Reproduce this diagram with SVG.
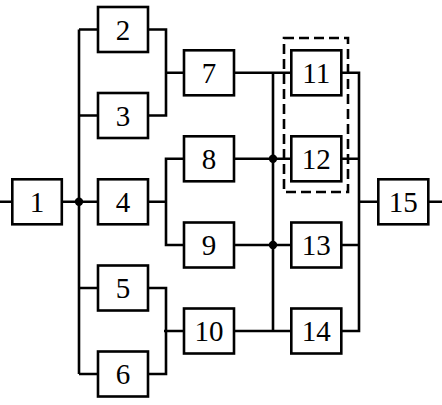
<svg xmlns="http://www.w3.org/2000/svg" width="442" height="405" viewBox="0 0 442 405">
<style>
.b{fill:#fff;stroke:#000;stroke-width:2.6}
.t{font-family:"Liberation Serif","Times New Roman",serif;font-size:29px;text-anchor:middle;fill:#000}
.w{fill:none;stroke:#000;stroke-width:2.6}
.d{fill:none;stroke:#000;stroke-width:2.6;stroke-dasharray:10 5}
</style>
<rect width="442" height="405" fill="#fff"/>
<g id="connectors">
<path class="w" d="M0 201.8H12.3 M61.8 201.8H98 M79 29.5V374 M79 29.5H98 M79 115.5H98 M79 288H98 M79 374H98"/>
<path class="w" d="M148 29.5H166V115.5H148 M166 72.8H184"/>
<path class="w" d="M148 201.8H166 M184 158.8H166V245H184"/>
<path class="w" d="M148 288H166V374H148 M164 331H184"/>
<path class="w" d="M234 72.8H291.3 M234 158.8H291.3 M234 245H291.3 M234 331H291.3 M273 72.8V331"/>
<path class="w" d="M341.3 72.8H359V331H341.3 M341.3 158.8H359 M341.3 245H359 M359 201.8H378.3 M428.3 201.8H442"/>
<circle cx="79" cy="201.8" r="4.2"/>
<circle cx="273" cy="158.8" r="4.2"/>
<circle cx="273" cy="245" r="4.2"/>
</g>
<g id="group-11-12"><rect class="d" x="284" y="38" width="64" height="154"/></g>
<g id="n1"><rect class="b" x="12.3" y="179.3" width="49.5" height="45"/><text class="t" x="37" y="212">1</text></g>
<g id="n2"><rect class="b" x="98" y="7" width="50" height="45"/><text class="t" x="123" y="39.5">2</text></g>
<g id="n3"><rect class="b" x="98" y="93" width="50" height="45"/><text class="t" x="123" y="125.5">3</text></g>
<g id="n4"><rect class="b" x="98" y="179.3" width="50" height="45"/><text class="t" x="123" y="212">4</text></g>
<g id="n5"><rect class="b" x="98" y="265.5" width="50" height="45"/><text class="t" x="123" y="298">5</text></g>
<g id="n6"><rect class="b" x="98" y="351.5" width="50" height="45"/><text class="t" x="123" y="384">6</text></g>
<g id="n7"><rect class="b" x="184" y="50.3" width="50" height="45"/><text class="t" x="209" y="83">7</text></g>
<g id="n8"><rect class="b" x="184" y="136.3" width="50" height="45"/><text class="t" x="209" y="169">8</text></g>
<g id="n9"><rect class="b" x="184" y="222.5" width="50" height="45"/><text class="t" x="209" y="255">9</text></g>
<g id="n10"><rect class="b" x="184" y="308.5" width="50" height="45"/><text class="t" x="209" y="341">10</text></g>
<g id="n11"><rect class="b" x="291.3" y="50.3" width="50" height="45"/><text class="t" x="316.3" y="83">11</text></g>
<g id="n12"><rect class="b" x="291.3" y="136.3" width="50" height="45"/><text class="t" x="316.3" y="169">12</text></g>
<g id="n13"><rect class="b" x="291.3" y="222.5" width="50" height="45"/><text class="t" x="316.3" y="255">13</text></g>
<g id="n14"><rect class="b" x="291.3" y="308.5" width="50" height="45"/><text class="t" x="316.3" y="341">14</text></g>
<g id="n15"><rect class="b" x="378.3" y="179.3" width="50" height="45"/><text class="t" x="403.3" y="212">15</text></g>
</svg>
